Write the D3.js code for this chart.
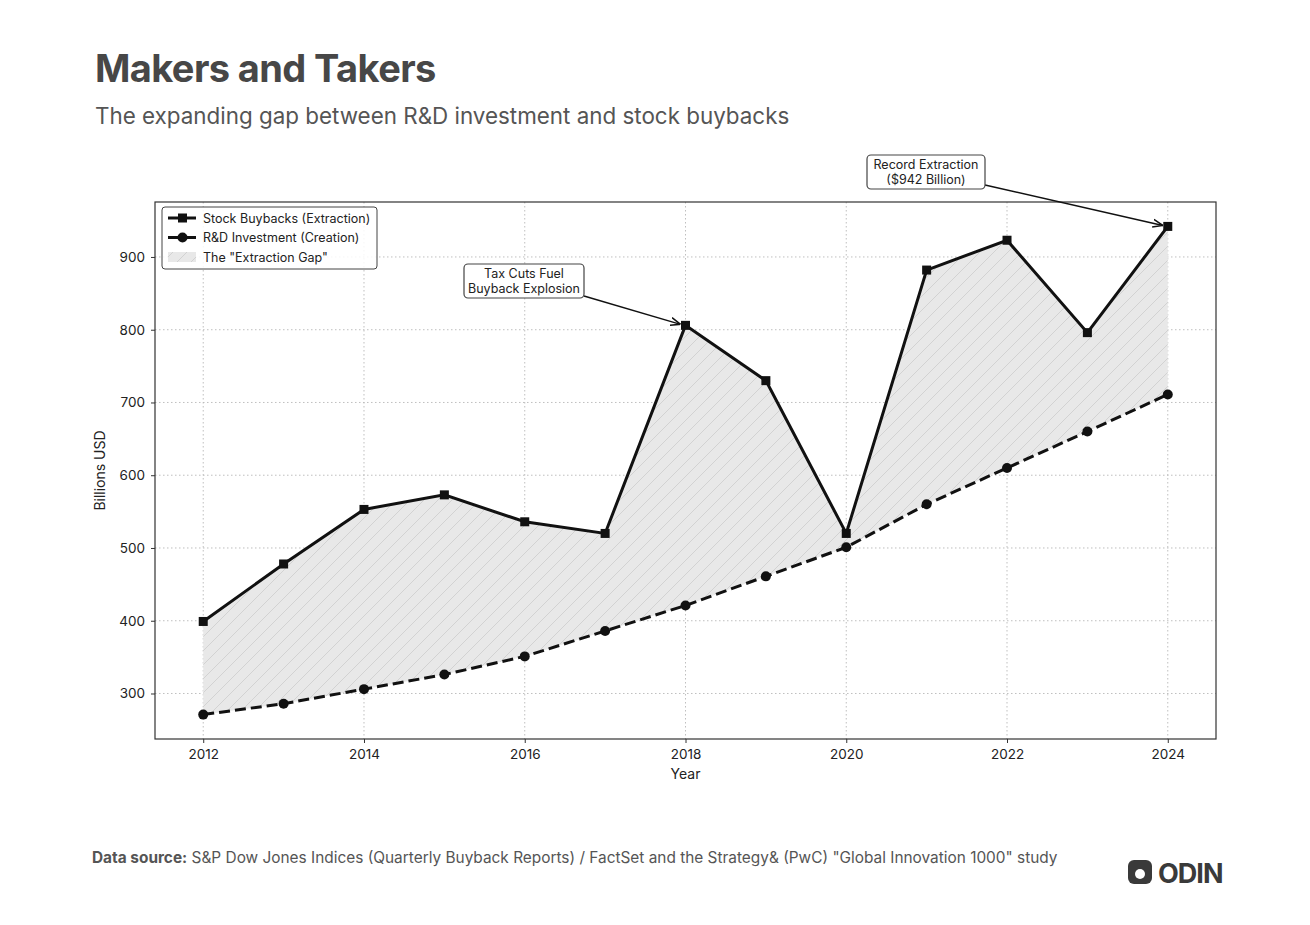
<!DOCTYPE html>
<html>
<head>
<meta charset="utf-8">
<script src="https://cdn.jsdelivr.net/npm/d3@7"></script>
<style>
  body { margin: 0; background: #fff; }
  svg text { font-family: Inter, Roboto, sans-serif; }
</style>
</head>
<body>
<svg id="chart" width="1310" height="925"></svg>
<script>
const years = [2012, 2013, 2014, 2015, 2016, 2017, 2018, 2019, 2020, 2021, 2022, 2023, 2024]
const buybacks = [399, 478, 553, 573, 536, 520, 806, 730, 520, 882, 923, 796, 942]
const research = [271, 286, 306, 326, 351, 386, 421, 461, 501, 560, 610, 660, 711]
const xTicks = [2012, 2014, 2016, 2018, 2020, 2022, 2024]
const yTicks = [300, 400, 500, 600, 700, 800, 900]

const svg = d3.select("#chart")
const margin = { left: 155, top: 202, right: 1216, bottom: 739 }

// matplotlib-like 5% padding
const yMin = d3.min(research), yMax = d3.max(buybacks)
const yPad = (yMax - yMin) * 0.05
const x = d3.scaleLinear().domain([2011.4, 2024.6]).range([margin.left, margin.right])
const y = d3.scaleLinear().domain([yMin - yPad, yMax + yPad]).range([margin.bottom, margin.top])

const rows = years.map((yr, i) => ({ yr, b: buybacks[i], r: research[i] }))

// title block
svg.append("text").attr("x", 95).attr("y", 82)
    .style("font-size", "38px").style("font-weight", 700).style("fill", "#474747")
    .style("letter-spacing", "-0.6px")
    .text("Makers and Takers")
svg.append("text").attr("x", 95).attr("y", 124)
    .style("font-size", "22.4px").style("fill", "#555")
    .text("The expanding gap between R&D investment and stock buybacks")

// hatch pattern for gap
const defs = svg.append("defs")
const pat = defs.append("pattern").attr("id", "hatch")
    .attr("patternUnits", "userSpaceOnUse").attr("width", 14).attr("height", 14)
pat.append("rect").attr("width", 14).attr("height", 14).attr("fill", "#e8e8e8")
pat.append("path").attr("d", "M0,14 L14,0 M-3.5,3.5 L3.5,-3.5 M10.5,17.5 L17.5,10.5")
    .attr("stroke", "#cdcdcd").attr("stroke-width", 0.8)

// grid
const grid = svg.append("g")
grid.selectAll(".gx").data(xTicks).join("line")
    .attr("x1", d => x(d)).attr("x2", d => x(d))
    .attr("y1", margin.top).attr("y2", margin.bottom)
    .attr("stroke", "#b8b8b8").attr("stroke-width", 0.9).attr("stroke-dasharray", "1.5,2.5")
grid.selectAll(".gy").data(yTicks).join("line")
    .attr("x1", margin.left).attr("x2", margin.right)
    .attr("y1", d => y(d)).attr("y2", d => y(d))
    .attr("stroke", "#b8b8b8").attr("stroke-width", 0.9).attr("stroke-dasharray", "1.5,2.5")

// gap area
const area = d3.area().x(d => x(d.yr)).y0(d => y(d.r)).y1(d => y(d.b))
svg.append("path").datum(rows).attr("d", area).attr("fill", "url(#hatch)")

// lines
const lineB = d3.line().x(d => x(d.yr)).y(d => y(d.b))
const lineR = d3.line().x(d => x(d.yr)).y(d => y(d.r))
svg.append("path").datum(rows).attr("d", lineR)
    .attr("fill", "none").attr("stroke", "#111").attr("stroke-width", 3)
    .attr("stroke-dasharray", "11,5")
svg.append("path").datum(rows).attr("d", lineB)
    .attr("fill", "none").attr("stroke", "#111").attr("stroke-width", 3)
    .attr("stroke-linejoin", "miter")

svg.selectAll(".mr").data(rows).join("circle")
    .attr("cx", d => x(d.yr)).attr("cy", d => y(d.r)).attr("r", 5).attr("fill", "#111")
svg.selectAll(".mb").data(rows).join("rect")
    .attr("x", d => x(d.yr) - 4.5).attr("y", d => y(d.b) - 4.5)
    .attr("width", 9).attr("height", 9).attr("fill", "#111")

// frame
svg.append("rect").attr("x", margin.left).attr("y", margin.top)
    .attr("width", margin.right - margin.left).attr("height", margin.bottom - margin.top)
    .attr("fill", "none").attr("stroke", "#333").attr("stroke-width", 1.2)

// axes
const xAxis = svg.append("g").attr("transform", `translate(0,${margin.bottom})`)
    .call(d3.axisBottom(x).tickValues(xTicks).tickFormat(d3.format("d")).tickSize(4).tickPadding(6))
const yAxis = svg.append("g").attr("transform", `translate(${margin.left},0)`)
    .call(d3.axisLeft(y).tickValues(yTicks).tickSize(4).tickPadding(6))
for (const ax of [xAxis, yAxis]) {
    ax.select(".domain").remove()
    ax.selectAll("line").attr("stroke", "#333")
    ax.selectAll("text").style("font-size", "13.5px").style("fill", "#222")
        .style("font-family", "Inter, Roboto, sans-serif")
}
svg.append("text").attr("x", (margin.left + margin.right) / 2).attr("y", 779)
    .attr("text-anchor", "middle").style("font-size", "14px").style("fill", "#222").text("Year")
svg.append("text").attr("transform", `translate(105,${(margin.top + margin.bottom) / 2}) rotate(-90)`)
    .attr("text-anchor", "middle").style("font-size", "14px").style("fill", "#222").text("Billions USD")

// legend
const lg = svg.append("g").attr("transform", "translate(162,207)")
lg.append("rect").attr("width", 215).attr("height", 62).attr("rx", 3)
    .attr("fill", "#fff").attr("fill-opacity", 0.85).attr("stroke", "#444").attr("stroke-width", 1)
const legendItems = ["Stock Buybacks (Extraction)", "R&D Investment (Creation)", "The \"Extraction Gap\""]
legendItems.forEach((label, i) => {
    const cy = 11 + i * 19.5
    if (i < 2) {
        lg.append("line").attr("x1", 6).attr("x2", 34).attr("y1", cy).attr("y2", cy)
            .attr("stroke", "#111").attr("stroke-width", 3)
        if (i === 0) lg.append("rect").attr("x", 16).attr("y", cy - 4.5).attr("width", 9).attr("height", 9).attr("fill", "#111")
        else lg.append("circle").attr("cx", 20.5).attr("cy", cy).attr("r", 5).attr("fill", "#111")
    } else {
        lg.append("rect").attr("x", 6).attr("y", cy - 5).attr("width", 28).attr("height", 10).attr("fill", "url(#hatch)")
    }
    lg.append("text").attr("x", 41).attr("y", cy + 4.5).style("font-size", "12.5px").style("fill", "#222").text(label)
})

// annotations
defs.append("marker").attr("id", "arrow").attr("viewBox", "0 0 10 10").attr("refX", 10).attr("refY", 5)
    .attr("markerWidth", 10).attr("markerHeight", 10).attr("markerUnits", "userSpaceOnUse").attr("orient", "auto")
    .append("path").attr("d", "M0,1 L10,5 L0,9").attr("fill", "none").attr("stroke", "#111").attr("stroke-width", 1.5)

function annotate(lines, cx, top, w, from, target) {
    const h = 34
    svg.append("line").attr("x1", from[0]).attr("y1", from[1])
        .attr("x2", x(target[0]) - 5).attr("y2", y(target[1]) - 1)
        .attr("stroke", "#111").attr("stroke-width", 1.5).attr("marker-end", "url(#arrow)")
    svg.append("rect").attr("x", cx - w / 2).attr("y", top).attr("width", w).attr("height", h)
        .attr("rx", 4).attr("fill", "#fff").attr("stroke", "#444").attr("stroke-width", 1.2)
    lines.forEach((t, i) => {
        svg.append("text").attr("x", cx).attr("y", top + 14 + i * 15).attr("text-anchor", "middle")
            .style("font-size", "12.5px").style("fill", "#222").text(t)
    })
}
annotate(["Tax Cuts Fuel", "Buyback Explosion"], 524, 264, 120, [584, 296], [2018, buybacks[6]])
annotate(["Record Extraction", "($942 Billion)"], 926, 155, 118, [985, 185], [2024, buybacks[12]])

// footer
const foot = svg.append("text").attr("x", 92).attr("y", 863).style("font-size", "15.4px").style("fill", "#555")
foot.append("tspan").style("font-weight", 700).text("Data source:")
foot.append("tspan").text(" S&P Dow Jones Indices (Quarterly Buyback Reports) / FactSet and the Strategy& (PwC) \"Global Innovation 1000\" study")

// logo
const logo = svg.append("g").attr("transform", "translate(1128,860)")
logo.append("rect").attr("width", 24).attr("height", 24).attr("rx", 6).attr("fill", "#3a3a3a")
logo.append("circle").attr("cx", 12).attr("cy", 14).attr("r", 5).attr("fill", "#fff")
logo.append("text").attr("x", 30).attr("y", 22.5).style("font-size", "27px").style("font-weight", 700)
    .style("fill", "#3a3a3a").style("letter-spacing", "-1px").text("ODIN")
</script>
</body>
</html>
